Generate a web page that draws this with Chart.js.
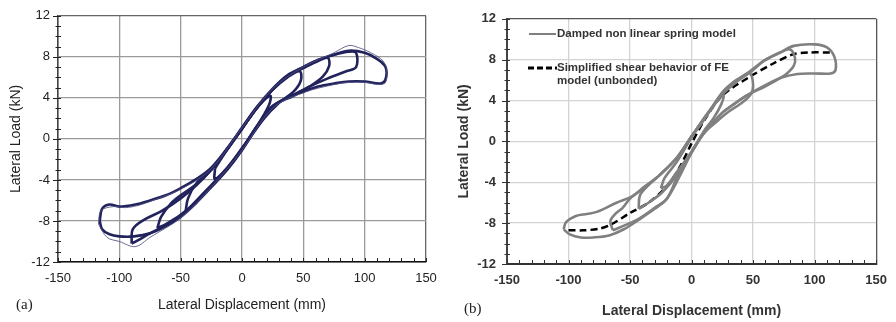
<!DOCTYPE html>
<html><head><meta charset="utf-8">
<script src="https://cdn.jsdelivr.net/npm/chart.js@4.4.1/dist/chart.umd.min.js"></script>
<style>
html,body{margin:0;padding:0;background:#fff;width:896px;height:322px;overflow:hidden;}
.wrap{position:absolute;top:0;width:448px;height:322px;}
#wa{left:0}#wb{left:448px}
canvas{display:block}
.lbl{position:absolute;font-family:"Liberation Serif","DejaVu Serif",serif;font-size:15px;color:#222;}
.leg{position:absolute;font-family:"Liberation Sans",Arial,sans-serif;font-weight:bold;font-size:11.5px;color:#333;white-space:nowrap;line-height:13px}
</style></head><body>
<div class="wrap" id="wa"><canvas id="ca" width="448" height="322"></canvas></div>
<div class="wrap" id="wb"><canvas id="cb" width="448" height="322"></canvas></div>
<div class="lbl" style="left:16px;top:296px">(a)</div>
<div class="lbl" style="left:464px;top:300px">(b)</div>
<svg style="position:absolute;left:527px;top:28px" width="32" height="48">
 <line x1="2" y1="6" x2="29" y2="6" stroke="#808080" stroke-width="2"/>
 <line x1="1" y1="40" x2="30" y2="40" stroke="#000" stroke-width="3" stroke-dasharray="6,3"/>
</svg>
<div class="leg" style="left:557px;top:27px">Damped non linear spring model</div>
<div class="leg" style="left:557px;top:61px">Simplified shear behavior of FE<br>model (unbonded)</div>
<script>
// ---------- Chart (a): experimental hysteresis loops ----------
const dispA1 = [-22,-12,0,12,23,22,12,0,-12,-22,-22];
const loadA1 = [-2.9,-1.0,1.0,3.0,4.2,3.3,1.2,-0.9,-2.8,-3.9,-2.9];
const dispA2 = [-46,-44,-37,-25,-12,0,12,25,37,47,48,42,30,18,0,-12,-25,-37,-46];
const loadA2 = [-7.1,-5.8,-4.3,-3.0,-1.0,1.0,3.0,4.8,6.0,6.6,5.7,4.6,3.5,2.0,-1.0,-2.9,-4.5,-6.0,-7.1];
const dispA3 = [-69,-66,-58,-50,-37,-25,-12,0,12,25,37,50,62,70,71,66,55,42,25,12,0,-12,-25,-37,-50,-62,-69];
const loadA3 = [-8.7,-7.6,-6.3,-5.5,-4.4,-3.0,-1.0,1.0,3.0,4.8,6.1,6.9,7.6,7.9,7.1,6.1,5.1,4.2,3.2,1.2,-1.0,-2.9,-4.6,-6.1,-7.4,-8.3,-8.7];
const dispA4 = [-90,-89,-80,-65,-50,-37,-25,-12,0,12,25,37,50,62,75,87,93,93,85,70,55,42,25,12,0,-12,-25,-37,-50,-62,-75,-85,-90];
const loadA4 = [-10.2,-8.8,-7.9,-7.0,-5.8,-4.5,-3.0,-1.0,1.0,3.0,4.8,6.1,7.0,7.7,8.2,8.5,8.4,7.0,6.6,5.9,5.1,4.3,3.2,1.2,-1.0,-2.9,-4.6,-6.1,-7.5,-8.4,-9.2,-9.9,-10.2];
const dispA5 = [-116,-114,-108,-100,-87,-75,-62,-50,-37,-25,-12,0,12,25,37,50,62,75,87,100,110,117,117,113,100,87,75,62,50,37,25,12,0,-12,-25,-37,-50,-62,-75,-88,-100,-108,-114,-116];
const loadA5 = [-8.0,-6.8,-6.4,-6.6,-6.4,-6.0,-5.5,-4.8,-3.9,-2.8,-0.9,1.1,3.1,4.9,6.2,7.0,7.7,8.2,8.6,8.4,7.8,7.0,5.8,5.4,5.6,5.6,5.4,5.1,4.6,4.0,3.1,1.1,-1.1,-3.0,-4.7,-6.2,-7.6,-8.5,-9.2,-9.5,-9.5,-9.3,-8.8,-8.0];
const dispA6 = [-117,-115,-105,-95,-85,-75,-50,-25,0,25,50,75,87,95,105,115,118,117,112,100,87,75,50,25,0,-25,-50,-75,-87,-100,-110,-117];
const loadA6 = [-8.3,-7.0,-6.6,-6.7,-6.5,-6.1,-4.9,-2.9,1.1,4.9,7.0,8.4,9.1,8.9,8.4,7.6,6.6,5.5,5.3,5.5,5.5,5.3,4.5,3.0,-1.1,-4.7,-7.7,-9.6,-10.5,-10.0,-9.6,-8.3];

// ---------- Chart (b): model loops ----------
const dispB1 = [-25,-22,-12,0,12,22,26,24,18,10,0,-12,-20,-25];
const loadB1 = [-4.6,-3.6,-2.0,0.4,2.6,4.1,4.5,3.6,2.3,1.0,-1.0,-3.0,-4.3,-4.6];
const dispB2 = [-43,-42,-36,-26,-12,0,12,25,37,47,50,48,40,30,20,10,0,-12,-24,-35,-43];
const loadB2 = [-6.6,-5.3,-4.4,-3.3,-1.6,0.5,2.5,4.6,5.9,6.7,5.5,4.6,3.7,2.9,1.9,0.8,-1.0,-3.3,-5.0,-6.0,-6.6];
const dispB3 = [-64,-66,-62,-56,-50,-38,-26,-12,0,12,25,37,47,59,72,80,84,83,77,72,60,45,35,24,10,0,-12,-20,-30,-42,-52,-64];
const loadB3 = [-8.7,-7.8,-7.1,-6.5,-5.6,-4.5,-3.3,-1.6,0.5,2.5,4.6,5.9,6.7,7.9,8.7,9.0,8.2,7.4,6.6,6.2,5.4,4.5,3.7,2.7,0.8,-1.1,-3.6,-5.6,-6.5,-7.5,-8.1,-8.7];
const dispB4 = [-104,-102,-94,-85,-77,-61,-48,-38,-26,-15,-7,0,6,12,25,35,45,59,72,83,100,110,116,117,113,100,86,72,60,45,35,24,10,0,-8,-20,-30,-42,-55,-67,-80,-90,-99,-104];
const loadB4 = [-8.6,-7.9,-7.3,-7.1,-6.9,-6.0,-5.35,-4.4,-3.3,-2.0,-0.9,0.5,1.4,2.5,4.8,5.9,6.65,7.9,8.7,9.35,9.5,9.2,8.3,7.0,6.65,6.65,6.6,6.2,5.5,4.5,3.7,2.7,0.8,-1.1,-3.0,-5.6,-6.6,-7.6,-8.6,-9.2,-9.4,-9.4,-9.1,-8.6];
const dispFE = [-100,-88,-75,-65,-50,-35,-20,-10,0,10,25,47,66,82,95,113];
const loadFE = [-8.7,-8.7,-8.55,-8.1,-7.0,-6.0,-4.4,-2.6,-0.2,2.0,4.5,6.3,7.6,8.5,8.7,8.7];

const xTicks = [-150,-100,-50,0,50,100,150];
const yTicks = [-12,-8,-4,0,4,8,12];
const legendLabels = ['Damped non linear spring model','Simplified shear behavior of FE model (unbonded)'];
const xTitle = 'Lateral Displacement (mm)';
const yTitle = 'Lateral Load (kN)';

const pts = (xs, ys) => xs.map((v, i) => ({x: v, y: ys[i]}));

const minorTicks = {
  id: 'minorTicks',
  afterDatasetsDraw(chart, args, o) {
    const {ctx, scales: {x, y}, chartArea: a} = chart;
    ctx.save();
    ctx.strokeStyle = o.color; ctx.lineWidth = o.width;
    ctx.beginPath();
    for (let v = x.min; v <= x.max + 1e-9; v += o.xStep) {
      const px = Math.round(x.getPixelForValue(v)) + 0.5;
      ctx.moveTo(px, a.bottom); ctx.lineTo(px, a.bottom - o.len);
    }
    for (let v = y.min; v <= y.max + 1e-9; v += o.yStep) {
      const py = Math.round(y.getPixelForValue(v)) + 0.5;
      const major = Math.abs(v % 4) < 1e-9;
      ctx.moveTo(a.left - (major ? 5 : 2.5), py); ctx.lineTo(a.left + 3, py);
    }
    ctx.stroke(); ctx.restore();
  }
};

function makeScales(cfg) {
  const tickFont = {family: '"Liberation Sans", Arial, sans-serif', size: 13, weight: cfg.bold ? 'bold' : 'normal'};
  const titleFont = {family: '"Liberation Sans", Arial, sans-serif', size: 14, weight: cfg.bold ? 'bold' : 'normal'};
  const gridColor = (c) => (c.tick && Math.abs(c.tick.value) === c.scale.max) ? cfg.edge : cfg.grid;
  return {
    x: {
      type: 'linear', min: xTicks[0], max: xTicks[xTicks.length - 1],
      afterBuildTicks: s => { s.ticks = xTicks.map(v => ({value: v})); },
      ticks: {padding: cfg.xPad, color: cfg.text, font: tickFont, maxRotation: 0, autoSkip: false},
      grid: {color: gridColor, lineWidth: cfg.gw, drawTicks: false},
      border: {color: cfg.xAxis, width: cfg.bw},
      title: {display: true, text: xTitle, color: cfg.text, font: titleFont, padding: {top: 2, bottom: cfg.xtPad}},
      afterFit: s => { s.height = cfg.xH; }
    },
    y: {
      type: 'linear', min: yTicks[0], max: yTicks[yTicks.length - 1],
      afterBuildTicks: s => { s.ticks = yTicks.map(v => ({value: v})); },
      ticks: {padding: cfg.yPad, color: cfg.text, font: tickFont, autoSkip: false},
      grid: {color: gridColor, lineWidth: cfg.gw, drawTicks: false},
      border: {color: cfg.yAxis, width: cfg.bw},
      title: {display: true, text: yTitle, color: cfg.text, font: titleFont, padding: {top: cfg.ytPad, bottom: 0}},
      afterFit: s => { s.width = cfg.yW; }
    }
  };
}

const navy = '#22225c';
const lineA = (xs, ys, w, c) => ({data: pts(xs, ys), showLine: true, pointRadius: 0, borderColor: c || navy, borderWidth: w || 2.6, tension: 0.35, fill: false});

new Chart(document.getElementById('ca'), {
  type: 'scatter',
  data: {datasets: [
    lineA(dispA6, loadA6, 1, 'rgba(80,80,130,0.85)'),
    lineA(dispA5, loadA5), lineA(dispA4, loadA4), lineA(dispA3, loadA3),
    lineA(dispA2, loadA2), lineA(dispA1, loadA1)
  ]},
  options: {
    responsive: false, animation: false, devicePixelRatio: 1, events: [],
    layout: {padding: {top: 14, right: 22, left: 0, bottom: 0}},
    plugins: {legend: {display: false}, tooltip: {enabled: false},
      minorTicks: {color: '#222', width: 1, xStep: 10, yStep: 1, len: 4}},
    scales: makeScales({bold: false, text: '#222', grid: '#9a9a9a', edge: '#666', gw: 1.3, xAxis: '#111', yAxis: '#444', bw: 1.5,
      xPad: 9, yPad: 8, xtPad: 8, ytPad: 8, xH: 60, yW: 58})
  },
  plugins: [minorTicks]
});

const grayB = '#808080';
const lineB = (xs, ys, label) => ({label, data: pts(xs, ys), showLine: true, pointRadius: 0, borderColor: grayB, borderWidth: 2.6, tension: 0.35, fill: false});

new Chart(document.getElementById('cb'), {
  type: 'scatter',
  data: {datasets: [
    lineB(dispB4, loadB4, legendLabels[0]), lineB(dispB3, loadB3), lineB(dispB2, loadB2), lineB(dispB1, loadB1),
    {label: legendLabels[1], data: pts(dispFE, loadFE), showLine: true, pointRadius: 0, borderColor: '#000', borderWidth: 2.5,
     borderDash: [7, 4], tension: 0.3, fill: false}
  ]},
  options: {
    responsive: false, animation: false, devicePixelRatio: 1, events: [],
    layout: {padding: {top: 14, right: 17, left: 0, bottom: 0}},
    plugins: {legend: {display: false}, tooltip: {enabled: false},
      minorTicks: {color: '#333', width: 1, xStep: 10, yStep: 1, len: 4}},
    scales: makeScales({bold: true, text: '#333', grid: '#d4d4d4', edge: '#555', gw: 1.3, xAxis: '#333', yAxis: '#444', bw: 2,
      xPad: 9, yPad: 11, xtPad: 2, ytPad: 8, xH: 58, yW: 59})
  },
  plugins: [minorTicks]
});
</script>
</body></html>
